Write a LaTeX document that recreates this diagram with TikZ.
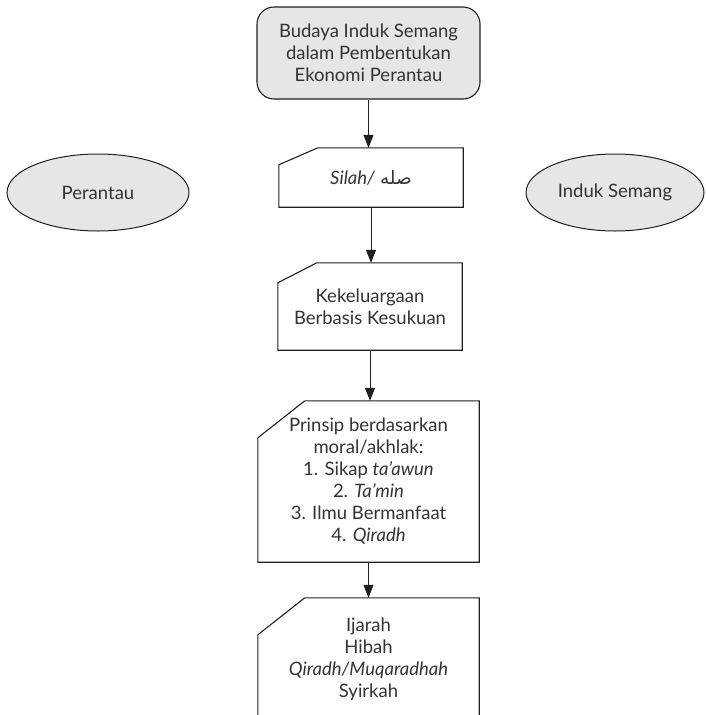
\documentclass[tikz,border=0pt]{standalone}
\usepackage{fontspec}
\setmainfont{Lato}
\newfontfamily\arabicfont[Script=Arabic]{DejaVu Sans}
\TeXXeTstate=1
\usetikzlibrary{arrows.meta,shapes.geometric}

\definecolor{isian}{HTML}{E6E6E7}
\definecolor{garis}{HTML}{231F20}
\definecolor{tulisan}{HTML}{333333}

\tikzset{
  every node/.style={font=\fontsize{18.5}{22}\selectfont, text=tulisan,
    align=center, inner sep=0pt},
  judul/.style={draw=garis, fill=isian, line width=1.1pt, rounded corners=17pt,
    minimum width=223pt, minimum height=92pt},
  pelaku/.style={ellipse, draw=garis, fill=isian, line width=1pt,
    minimum height=77pt},
  kartu/.style={minimum width=#1},
  tepi/.style={draw=garis, line width=1.1pt},
  panah/.style={-{Triangle[width=10pt,length=13pt]}, draw=garis, line width=1pt}
}

\begin{document}
\begin{tikzpicture}[x=1pt, y=-1pt]

    % Page frame
    \clip (0,0) rectangle (705,715);

    % The title box on top
    \node [judul] (budaya) at (368.5,53)
      {Budaya Induk Semang\\dalam Pembentukan\\Ekonomi Perantau};

    % The two sides
    \node [pelaku, minimum width=182pt] (perantau) at (98,192.5) {Perantau};
    \node [pelaku, minimum width=178pt] (induk) at (615,192.5) {Induk Semang};

    % The cards down the middle
    \node [kartu=184pt, minimum height=59pt] (silah) at (371,177.5)
      {\textit{Silah/} {\arabicfont\beginR صله\endR}};
    \node [kartu=184pt, minimum height=87pt] (keluarga) at (370,306.5)
      {Kekeluargaan\\Berbasis Kesukuan};
    \node [kartu=221pt, minimum height=161pt] (prinsip) at (368.5,481.5)
      {Prinsip berdasarkan\\moral/akhlak:\\1. Sikap \textit{ta'awun}\\
       2. \textit{Ta'min}\\3. Ilmu Bermanfaat\\4. \textit{Qiradh}};
    \node [kartu=221pt, minimum height=122pt] (akad) at (368.5,659)
      {Ijarah\\Hibah\\\textit{Qiradh/Muqaradhah}\\Syirkah};

    % Outline of each card, top left corner cut off
    \foreach \kotak/\dx/\dy in {silah/39/17, keluarga/39/20, prinsip/47/37, akad/47/37}
      \draw [tepi] (\kotak.south west) -- (\kotak.south east) -- (\kotak.north east)
        -- ([xshift=\dx pt]\kotak.north west) -- ([yshift=-\dy pt]\kotak.north west)
        -- cycle;

    % Arrows from one box to the next
    \foreach \dari/\ke in {budaya/silah, silah/keluarga, keluarga/prinsip, prinsip/akad}
      \draw [panah] (\dari.south) -- (\dari.south |- \ke.north);
  \end{tikzpicture}
\end{document}
